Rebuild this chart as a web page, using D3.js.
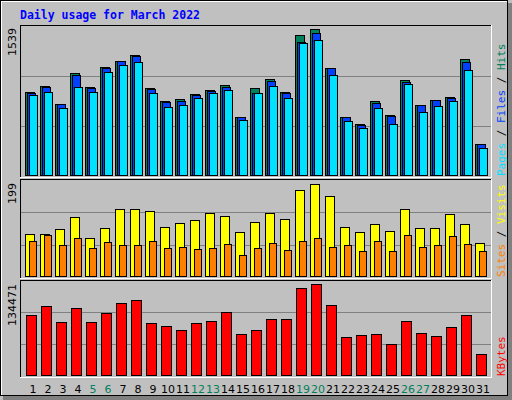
<!DOCTYPE html>
<html><head><meta charset="utf-8">
<script src="https://cdn.jsdelivr.net/npm/d3@7"></script>
<style>body{margin:0;background:#fff}</style></head>
<body><svg id="c" width="512" height="400"></svg>
<script>
const days = d3.range(1,32);
const weekends = [5,6,12,13,19,20,26,27];
const hits  = [884,943,756,1082,933,1141,1203,1269,922,780,801,860,905,954,621,922,1016,884,1477,1539,1134,621,548,790,642,1006,746,798,829,1224,330];
const files = [866,929,756,1058,922,1126,1199,1255,908,777,787,850,891,933,617,866,995,870,1407,1494,1130,617,534,766,631,988,746,798,818,1193,330];
const pages = [850,881,714,933,881,1089,1162,1193,870,725,746,818,870,902,590,866,943,818,1390,1422,1058,579,506,714,548,964,673,735,787,1110,288];
const visits= [93,93,102,128,83,104,145,145,141,106,115,121,136,130,96,117,136,124,186,199,173,108,96,113,98,145,104,104,134,113,72];
const sites = [78,89,68,83,61,74,68,68,76,63,65,59,61,70,48,61,72,57,76,83,65,68,55,76,55,89,65,68,87,70,55];
const kbytes= [88835,102086,78528,99142,78528,91780,106504,110921,77056,72638,66749,77056,80000,93252,60859,66749,82945,82945,128590,134471,103559,56442,59387,60859,46135,80000,62332,57914,71166,88835,32884];

const svg = d3.select("#c").attr("shape-rendering","crispEdges");
const C = {hits:"#00805c",files:"#0040ff",pages:"#00e0ff",visits:"#ffff00",sites:"#ff8000",kb:"#ff0000"};
// background
svg.append("rect").attr("x",0).attr("y",0).attr("width",512).attr("height",400).attr("fill","#c0c0c0");
svg.append("rect").attr("x",508).attr("y",3).attr("width",4).attr("height",397).attr("fill","#808080");
svg.append("rect").attr("x",3).attr("y",396).attr("width",509).attr("height",4).attr("fill","#808080");
svg.append("rect").attr("x",0.5).attr("y",0.5).attr("width",507).attr("height",395).attr("fill","none").attr("stroke","#000");
svg.append("line").attr("x1",1).attr("x2",507).attr("y1",1.5).attr("y2",1.5).attr("stroke","#fff");
svg.append("line").attr("x1",1.5).attr("x2",1.5).attr("y1",1).attr("y2",395).attr("stroke","#fff");

svg.append("text").attr("x",20).attr("y",19).attr("fill","#0000ff").attr("font-family","DejaVu Sans Mono")
  .attr("font-weight","bold").attr("font-size",11.5).text("Daily usage for March 2022");

const x = d3.scaleLinear().domain([1,31]).range([25,475]);
const L=20, R=491;
function panel(y0,y1){
  svg.append("line").attr("x1",L).attr("x2",R).attr("y1",y0+0.5).attr("y2",y0+0.5).attr("stroke","#000");
  svg.append("line").attr("x1",L+0.5).attr("x2",L+0.5).attr("y1",y0).attr("y2",y1).attr("stroke","#000");
  svg.append("line").attr("x1",L).attr("x2",R).attr("y1",y1+0.5).attr("y2",y1+0.5).attr("stroke","#fff");
  svg.append("line").attr("x1",R+0.5).attr("x2",R+0.5).attr("y1",y0).attr("y2",y1+1).attr("stroke","#fff");
}
function grid(y){[1/3,2/3].forEach(f=>{const gy=Math.round(y.range()[0]-(y.range()[0]-y.range()[1])*1.5*0+0);});}
function gridlines(yb,yt){const h=yb-yt;[1,2].forEach(k=>svg.append("line").attr("x1",L+1).attr("x2",R).attr("y1",yb-k*h/3+0.5).attr("y2",yb-k*h/3+0.5).attr("stroke","#808080"));}
function bars(data,y,dx,w,color){
  svg.append("g").selectAll("rect").data(data).join("rect")
    .attr("x",(d,i)=>x(i+1)+dx+0.5).attr("width",w)
    .attr("y",d=>Math.round(y(d))+0.5).attr("height",d=>y(0)-Math.round(y(d))-1)
    .attr("fill",color).attr("stroke","#000");
}
function leftLabel(txt,yTop){
  svg.append("text").attr("transform",`translate(16,${yTop}) rotate(-90)`).attr("text-anchor","end")
    .attr("font-family","DejaVu Sans").attr("font-size",11).attr("fill","#000").text(txt);
}
function rightLabel(parts,yBottom){
  const t=svg.append("text").attr("transform",`translate(496,${yBottom}) rotate(90)`).attr("text-anchor","end")
    .attr("font-family","DejaVu Sans Mono").attr("font-size",11);
  // rotated 90: reads top->bottom; we need bottom->top, so rotate -90 instead
  t.remove();
  const t2=svg.append("text").attr("transform",`translate(505,${yBottom}) rotate(-90)`)
    .attr("font-family","DejaVu Sans Mono").attr("font-size",11);
  parts.forEach(p=>t2.append("tspan").attr("fill",p[1]).text(p[0]));
}

// top panel
panel(25,177); gridlines(176,26);
const y1 = d3.scaleLinear().domain([0,1539]).range([176,29]);
bars(hits,y1,0,9,C.hits); bars(files,y1,2,8,C.files); bars(pages,y1,4,8,C.pages);
leftLabel("1539",28);
rightLabel([["Pages",C.pages],[" / ","#000"],["Files",C.files],[" / ","#000"],["Hits",C.hits]],176);

// middle
panel(179,278); gridlines(277,180);
const y2 = d3.scaleLinear().domain([0,199]).range([277,184]);
bars(visits,y2,0,9,C.visits); bars(sites,y2,4,7,C.sites);
leftLabel("199",183);
rightLabel([["Sites",C.sites],[" / ","#000"],["Visits",C.visits]],277);

// bottom
panel(280,377); gridlines(376,280);
const y3 = d3.scaleLinear().domain([0,134471]).range([376,284]);
bars(kbytes,y3,1,10,C.kb);
leftLabel("134471",284);
rightLabel([["KBytes",C.kb]],376);

// day labels
svg.append("g").selectAll("text").data(days).join("text")
  .attr("x",d=>x(d)+8).attr("y",393).attr("text-anchor","middle")
  .attr("font-family","DejaVu Sans").attr("font-size",11)
  .attr("fill",d=>weekends.includes(d)?"#00805c":"#000").text(d=>d);
</script></body></html>
